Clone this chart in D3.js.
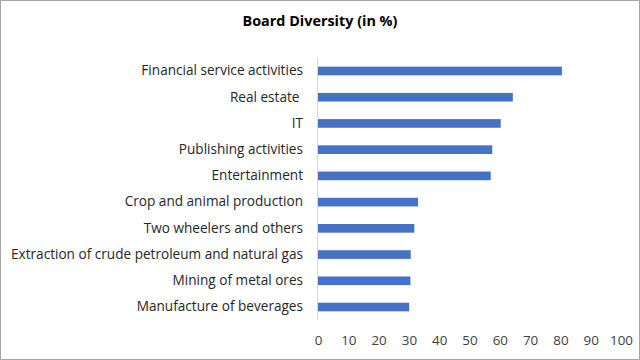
<!DOCTYPE html>
<html><head><meta charset="utf-8">
<script src="https://cdn.jsdelivr.net/npm/d3@7"></script>
<style>body{margin:0;background:#fff}svg{display:block}text{font-family:"Open Sans","Liberation Sans",sans-serif}</style>
</head><body>
<svg id="c" width="640" height="360"></svg>
<script>
const categories = ["Financial service activities","Real estate ","IT","Publishing activities","Entertainment","Crop and animal production","Two wheelers and others","Extraction of crude petroleum and natural gas","Mining of metal ores","Manufacture of beverages"];
const values = [80.5, 64.3, 60.3, 57.5, 57.0, 33.0, 31.8, 30.6, 30.5, 30.1];
const xTicks = [0,10,20,30,40,50,60,70,80,90,100];
const title = "Board Diversity (in %)";

const svg = d3.select("#c");
svg.append("rect").attr("x",0.5).attr("y",0.5).attr("width",639).attr("height",359).attr("fill","#fff").attr("stroke","#a6a6a6");
const x = d3.scaleLinear().domain([0,100]).range([318,621]);
const y = d3.scaleBand().domain(categories).range([58,320]).paddingInner(0.67).paddingOuter(0.33);

svg.append("text").attr("x",320).attr("y",26).attr("text-anchor","middle").attr("font-size",14.4).attr("font-weight","bold").attr("fill","#000").style("font-family","'Open Sans',sans-serif").text(title);

svg.append("line").attr("x1",x(0)-0.5).attr("x2",x(0)-0.5).attr("y1",58).attr("y2",320).attr("stroke","#d9d9d9");

svg.selectAll("rect.bar").data(values).join("rect").attr("class","bar")
  .attr("x",x(0)).attr("y",(d,i)=>y(categories[i])).attr("width",d=>x(d)-x(0)).attr("height",y.bandwidth()).attr("fill","#4472C4");

const xa = d3.axisBottom(x).tickValues(xTicks).tickSize(0).tickPadding(0);
const g = svg.append("g").attr("transform","translate(0,335)").call(xa);
g.select(".domain").remove();
g.selectAll("text").attr("font-size",13.4).attr("fill","#404040").attr("dy","0.71em").style("font-family","'Open Sans',sans-serif");

const ya = d3.axisLeft(y).tickSize(0).tickPadding(15);
const gy = svg.append("g").attr("transform",`translate(${x(0)},0)`).call(ya);
gy.select(".domain").remove();
gy.selectAll("text").attr("font-size",13.6).attr("fill","#262626").style("white-space","pre").style("font-family","'Open Sans',sans-serif");
</script>
</body></html>
